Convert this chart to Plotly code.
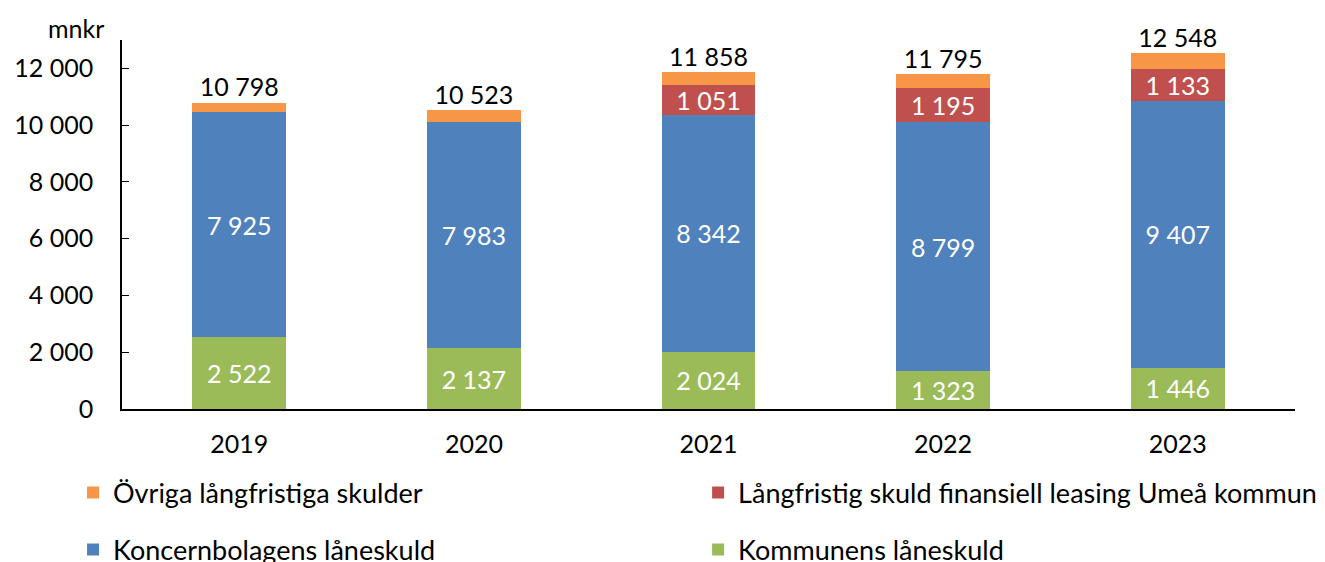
import plotly.graph_objects as go

years = ["2019", "2020", "2021", "2022", "2023"]
kommunens = [2522, 2137, 2024, 1323, 1446]
koncern = [7925, 7983, 8342, 8799, 9407]
leasing = [None, None, 1051, 1195, 1133]
ovriga = [351, 403, 441, 478, 562]
totals = [10798, 10523, 11858, 11795, 12548]

def fmt(v):
    return "" if v is None else f"{v:,}".replace(",", " ")

FONT = "Lato, 'Open Sans', sans-serif"
FS = 25
lab_font = dict(family=FONT, size=FS, color="white")

fig = go.Figure()
fig.add_bar(x=years, y=kommunens, name="Kommunens låneskuld", marker_color="#9BBB59",
            text=[fmt(v) for v in kommunens], textposition="inside", insidetextanchor="middle",
            constraintext="none", textfont=lab_font, legend="legend4", marker_line_width=0)
fig.add_bar(x=years, y=koncern, name="Koncernbolagens låneskuld", marker_color="#4F81BD",
            text=[fmt(v) for v in koncern], textposition="inside", insidetextanchor="middle",
            constraintext="none", textfont=lab_font, legend="legend3", marker_line_width=0)
fig.add_bar(x=years, y=leasing, name="Långfristig skuld finansiell leasing Umeå kommun", marker_color="#C0504D",
            text=[fmt(v) for v in leasing], textposition="inside", insidetextanchor="middle",
            constraintext="none", textfont=lab_font, legend="legend2", marker_line_width=0)
fig.add_bar(x=years, y=ovriga, name="Övriga långfristiga skulder", marker_color="#F79646",
            legend="legend", marker_line_width=0, textposition="none")
fig.add_scatter(x=years, y=totals, mode="text", text=[fmt(v) for v in totals],
                textposition="top center", textfont=dict(family=FONT, size=FS, color="black"),
                showlegend=False, hoverinfo="skip", cliponaxis=False)

W, H = 1317, 554  # page body has an 8px margin

def leg(x, y):
    return dict(orientation="h", xref="container", yref="container", x=x, y=y,
                xanchor="left", yanchor="middle", font=dict(size=27),
                itemwidth=30, bgcolor="rgba(0,0,0,0)")

fig.update_layout(
    width=W, height=H,
    barmode="stack", bargap=0.6,
    plot_bgcolor="white", paper_bgcolor="white",
    margin=dict(l=114, r=30, t=32, b=153, autoexpand=False),
    font=dict(family=FONT, size=FS, color="black"),
    separators=", ",
    xaxis=dict(showline=True, linecolor="black", linewidth=1.5, ticks="", showgrid=False,
               tickfont=dict(size=FS), ticklabelstandoff=12),
    yaxis=dict(range=[0, 13000], tickvals=[0, 2000, 4000, 6000, 8000, 10000, 12000],
               tickformat=",d", showline=True, linecolor="black", linewidth=1.5,
               ticks="inside", ticklen=7, tickcolor="black", showgrid=False,
               tickfont=dict(size=FS), zeroline=False, ticklabelstandoff=22),
    legend=leg(0.0494, 0.1245),
    legend2=leg(0.524, 0.1245),
    legend3=leg(0.0494, 0.0217),
    legend4=leg(0.524, 0.0217),
    annotations=[dict(text="mnkr", xref="paper", yref="paper", x=-0.039, y=1.0,
                      xanchor="center", yanchor="middle", showarrow=False,
                      font=dict(size=FS), yshift=12)],
)

fig.write_html("out.html")
